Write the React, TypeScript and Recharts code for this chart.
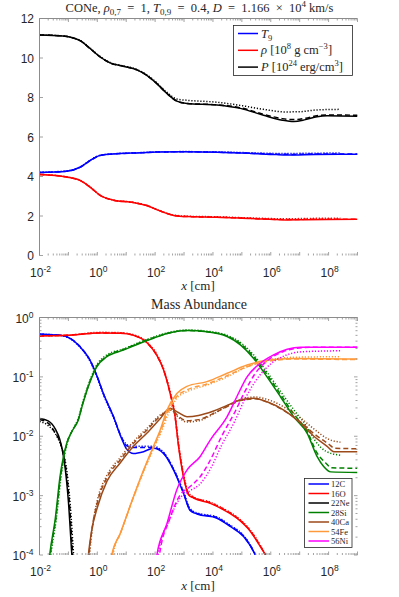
import React from 'react';
import { LineChart, Line, XAxis, YAxis } from 'recharts';

type Pt = [number, number];

// top panel: [log10 x, value]
const tempSolid: Pt[] = [[-2, 4.2], [-1.06, 4.27], [-0.6, 4.47], [-0.25, 4.81], [0.1, 5.07], [0.67, 5.15], [1.5, 5.2], [2.06, 5.24], [3, 5.25], [4.14, 5.23], [5.3, 5.17], [6.2, 5.11], [6.8, 5.09], [7.5, 5.12], [9, 5.13]];
const tempDashed: Pt[] = [[-2, 4.2], [-1.06, 4.27], [-0.6, 4.46], [-0.25, 4.8], [0.1, 5.06], [0.67, 5.15], [1.5, 5.2], [2.06, 5.24], [3, 5.25], [4.14, 5.23], [5.3, 5.18], [6.2, 5.13], [6.8, 5.12], [7.5, 5.14], [9, 5.14]];
const tempDotted: Pt[] = [[-2, 4.22], [-1.06, 4.28], [-0.6, 4.48], [-0.25, 4.82], [0.1, 5.08], [0.67, 5.16], [1.5, 5.21], [2.06, 5.25], [3, 5.26], [4.14, 5.25], [5.3, 5.2], [6.2, 5.17], [6.8, 5.17], [7.5, 5.18], [8.41, 5.19]];

const rhoSolid: Pt[] = [[-2, 4.1], [-1.06, 3.97], [-0.6, 3.8], [-0.25, 3.46], [0.1, 3.04], [0.56, 2.8], [1.25, 2.68], [1.71, 2.53], [2.18, 2.25], [2.64, 2.03], [3.1, 1.97], [4.14, 1.94], [5.3, 1.87], [6.5, 1.8], [7.2, 1.81], [9, 1.83]];
const rhoDashed: Pt[] = [[-2, 4.1], [-1.06, 3.97], [-0.6, 3.8], [-0.25, 3.46], [0.1, 3.04], [0.56, 2.8], [1.25, 2.68], [1.71, 2.53], [2.18, 2.25], [2.64, 2.03], [3.1, 1.97], [4.14, 1.94], [5.3, 1.88], [6.5, 1.82], [7.2, 1.83], [9, 1.84]];
const rhoDotted: Pt[] = [[-2, 4.11], [-1.06, 3.98], [-0.6, 3.81], [-0.25, 3.47], [0.1, 3.05], [0.56, 2.81], [1.25, 2.69], [1.71, 2.54], [2.18, 2.26], [2.64, 2.05], [3.1, 1.99], [4.14, 1.96], [5.3, 1.9], [6.5, 1.86], [7.5, 1.88], [8.41, 1.89]];

const presSolid: Pt[] = [[-2, 11.17], [-1.2, 11.12], [-0.8, 11.0], [-0.6, 10.88], [-0.25, 10.48], [0.1, 10.05], [0.44, 9.75], [0.9, 9.58], [1.37, 9.4], [1.71, 9.12], [2.06, 8.7], [2.41, 8.2], [2.75, 7.82], [3.1, 7.7], [4.14, 7.62], [4.95, 7.45], [5.75, 7.1], [6.4, 6.85], [6.8, 6.78], [7.2, 6.88], [7.6, 7.03], [7.95, 7.08], [9, 7.05]];
const presDashed: Pt[] = [[-2, 11.17], [-1.2, 11.12], [-0.8, 11.0], [-0.6, 10.88], [-0.25, 10.48], [0.1, 10.05], [0.44, 9.75], [0.9, 9.58], [1.37, 9.4], [1.71, 9.12], [2.06, 8.7], [2.41, 8.2], [2.75, 7.82], [3.1, 7.7], [4.14, 7.63], [4.95, 7.48], [5.75, 7.15], [6.4, 6.93], [6.8, 6.88], [7.2, 6.95], [7.6, 7.08], [8.0, 7.12], [9, 7.1]];
const presDotted: Pt[] = [[-2, 11.17], [-1.2, 11.12], [-0.8, 11.01], [-0.6, 10.9], [-0.25, 10.5], [0.1, 10.07], [0.44, 9.77], [0.9, 9.6], [1.37, 9.42], [1.71, 9.15], [2.06, 8.74], [2.41, 8.26], [2.75, 7.92], [3.1, 7.86], [4.14, 7.76], [4.95, 7.6], [5.75, 7.4], [6.5, 7.27], [7.0, 7.28], [7.6, 7.37], [8.41, 7.4]];

// bottom panel: [log10 x, log10 mass fraction]
const c12Solid: Pt[] = [[-2, -0.28], [-1.29, -0.3], [-0.94, -0.35], [-0.6, -0.49], [-0.25, -0.72], [0, -1.0], [0.21, -1.28], [0.56, -1.67], [0.85, -2.05], [1.02, -2.22], [1.25, -2.29], [1.6, -2.26], [1.94, -2.2], [2.29, -2.29], [2.64, -2.57], [2.98, -2.96], [3.21, -3.25], [3.45, -3.31], [4.14, -3.38], [4.6, -3.52], [5.06, -3.69], [5.47, -4.0], [5.8, -4.4]];
const c12Dashed: Pt[] = [[-2, -0.28], [-1.29, -0.3], [-0.94, -0.35], [-0.6, -0.49], [-0.25, -0.72], [0, -1.0], [0.21, -1.28], [0.56, -1.67], [0.85, -2.03], [1.02, -2.16], [1.25, -2.19], [1.6, -2.19], [1.94, -2.19], [2.29, -2.28], [2.64, -2.56], [2.98, -2.95], [3.21, -3.24], [3.45, -3.3], [4.14, -3.37], [4.6, -3.51], [5.06, -3.68], [5.47, -4.0], [5.8, -4.4]];
const c12Dotted: Pt[] = [[-2, -0.28], [-1.29, -0.3], [-0.94, -0.36], [-0.6, -0.5], [-0.25, -0.74], [0, -1.02], [0.21, -1.3], [0.56, -1.69], [0.85, -2.03], [1.02, -2.14], [1.25, -2.17], [1.6, -2.17], [1.94, -2.17], [2.29, -2.27], [2.64, -2.55], [2.98, -2.93], [3.21, -3.22], [3.45, -3.29], [4.14, -3.36], [4.6, -3.5], [5.06, -3.67], [5.47, -4.0], [5.8, -4.4]];

const o16Solid: Pt[] = [[-2, -0.31], [-1.06, -0.3], [0.1, -0.26], [0.79, -0.265], [1.25, -0.3], [1.71, -0.42], [2.06, -0.64], [2.29, -0.88], [2.52, -1.28], [2.69, -1.67], [2.81, -2.17], [2.98, -2.68], [3.16, -2.99], [3.33, -3.04], [3.91, -3.13], [4.37, -3.24], [4.83, -3.38], [5.29, -3.6], [5.64, -3.86], [5.81, -4.0], [6.0, -4.3]];
const o16Dashed: Pt[] = [[-2, -0.31], [-1.06, -0.3], [0.1, -0.26], [0.79, -0.26], [1.25, -0.3], [1.71, -0.42], [2.06, -0.64], [2.29, -0.88], [2.52, -1.28], [2.69, -1.67], [2.81, -2.15], [2.98, -2.66], [3.16, -2.98], [3.33, -3.03], [3.91, -3.12], [4.37, -3.23], [4.83, -3.37], [5.29, -3.59], [5.64, -3.85], [5.81, -4.0], [6.0, -4.3]];
const o16Dotted: Pt[] = [[-2, -0.31], [-1.06, -0.3], [0.1, -0.25], [0.79, -0.255], [1.25, -0.29], [1.71, -0.41], [2.06, -0.62], [2.29, -0.86], [2.52, -1.25], [2.69, -1.64], [2.81, -2.12], [2.98, -2.63], [3.16, -2.96], [3.33, -3.02], [3.91, -3.11], [4.37, -3.22], [4.83, -3.36], [5.29, -3.58], [5.64, -3.84], [5.81, -4.0], [6.0, -4.3]];

const ne22Solid: Pt[] = [[-2, -1.7], [-1.7, -1.74], [-1.45, -1.88], [-1.3, -2.05], [-1.15, -2.4], [-1.0, -3.1], [-0.88, -4.0], [-0.8, -4.5]];
const ne22Dashed: Pt[] = [[-2, -1.72], [-1.7, -1.78], [-1.45, -1.95], [-1.25, -2.15], [-1.1, -2.5], [-0.97, -3.1], [-0.85, -4.0], [-0.78, -4.5]];
const ne22Dotted: Pt[] = [[-2, -1.75], [-1.7, -1.82], [-1.4, -2.0], [-1.2, -2.25], [-1.05, -2.6], [-0.93, -3.2], [-0.82, -4.0], [-0.75, -4.5]];

const si28Solid: Pt[] = [[-1.75, -4.5], [-1.64, -3.97], [-1.46, -3.41], [-1.29, -2.68], [-1.06, -2.12], [-0.88, -1.92], [-0.66, -1.73], [-0.5, -1.45], [-0.25, -1.08], [-0.02, -0.83], [0.33, -0.66], [0.9, -0.55], [1.5, -0.43], [1.94, -0.35], [2.41, -0.27], [3.1, -0.22], [3.79, -0.24], [4.49, -0.32], [4.95, -0.46], [5.41, -0.69], [5.87, -1.0], [6.33, -1.33], [6.79, -1.67], [7.26, -1.95], [7.6, -2.34], [7.83, -2.51], [8.07, -2.6], [9, -2.61]];
const si28Dashed: Pt[] = [[-1.73, -4.5], [-1.62, -3.97], [-1.44, -3.41], [-1.27, -2.68], [-1.04, -2.1], [-0.86, -1.9], [-0.66, -1.72], [-0.5, -1.44], [-0.25, -1.07], [-0.02, -0.82], [0.33, -0.65], [0.9, -0.54], [1.5, -0.42], [1.94, -0.34], [2.41, -0.27], [3.1, -0.22], [3.79, -0.24], [4.49, -0.31], [4.95, -0.44], [5.41, -0.66], [5.87, -0.96], [6.33, -1.29], [6.79, -1.62], [7.26, -1.92], [7.6, -2.28], [7.9, -2.45], [8.1, -2.53], [9, -2.54]];
const si28Dotted: Pt[] = [[-1.72, -4.5], [-1.6, -3.97], [-1.42, -3.4], [-1.25, -2.66], [-1.02, -2.08], [-0.84, -1.88], [-0.66, -1.7], [-0.5, -1.42], [-0.25, -1.05], [-0.02, -0.8], [0.33, -0.63], [0.9, -0.53], [1.5, -0.41], [1.94, -0.33], [2.41, -0.26], [3.1, -0.21], [3.79, -0.23], [4.49, -0.3], [4.95, -0.42], [5.41, -0.63], [5.87, -0.92], [6.33, -1.24], [6.79, -1.55], [7.26, -1.85], [7.5, -2.05], [7.9, -2.25], [8.41, -2.32]];

const ca40Solid: Pt[] = [[-0.4, -4.5], [-0.31, -4.0], [-0.2, -3.6], [0, -3.2], [0.33, -2.76], [0.79, -2.45], [1.25, -2.17], [1.71, -1.95], [2.18, -1.7], [2.52, -1.53], [2.8, -1.6], [3.1, -1.67], [3.5, -1.65], [4.0, -1.58], [4.49, -1.48], [4.95, -1.39], [5.41, -1.36], [5.87, -1.42], [6.45, -1.56], [7.03, -1.78], [7.49, -2.0], [7.95, -2.17], [8.18, -2.26], [9, -2.26]];
const ca40Dashed: Pt[] = [[-0.38, -4.5], [-0.29, -4.0], [-0.18, -3.55], [0, -3.12], [0.33, -2.7], [0.79, -2.4], [1.25, -2.12], [1.71, -1.9], [2.18, -1.66], [2.55, -1.55], [2.8, -1.66], [3.1, -1.74], [3.5, -1.72], [4.0, -1.62], [4.49, -1.5], [4.95, -1.4], [5.45, -1.37], [6.0, -1.45], [6.5, -1.58], [7.03, -1.76], [7.5, -1.96], [8.0, -2.13], [8.2, -2.2], [9, -2.21]];
const ca40Dotted: Pt[] = [[-0.36, -4.5], [-0.27, -4.0], [-0.16, -3.5], [0, -3.08], [0.33, -2.66], [0.79, -2.36], [1.25, -2.09], [1.71, -1.87], [2.18, -1.64], [2.55, -1.56], [2.8, -1.68], [3.1, -1.76], [3.5, -1.74], [4.0, -1.63], [4.49, -1.49], [4.95, -1.38], [5.45, -1.34], [6.0, -1.4], [6.5, -1.52], [7.0, -1.68], [7.5, -1.88], [8.0, -2.05], [8.41, -2.1]];

const fe54Solid: Pt[] = [[0.4, -4.4], [0.5, -4.0], [0.79, -3.64], [1.25, -3.02], [1.6, -2.57], [1.94, -2.17], [2.18, -1.89], [2.41, -1.56], [2.75, -1.28], [3.1, -1.16], [3.79, -1.08], [4.49, -0.94], [5.18, -0.8], [5.87, -0.72], [6.79, -0.69], [9, -0.7]];
const fe54Dashed: Pt[] = [[0.42, -4.4], [0.52, -4.0], [0.81, -3.62], [1.27, -3.0], [1.62, -2.56], [1.96, -2.17], [2.2, -1.9], [2.43, -1.6], [2.75, -1.33], [3.1, -1.22], [3.79, -1.12], [4.49, -0.98], [5.18, -0.83], [5.87, -0.74], [6.8, -0.7], [9, -0.71]];
const fe54Dotted: Pt[] = [[0.44, -4.4], [0.54, -4.0], [0.83, -3.6], [1.29, -2.98], [1.64, -2.55], [1.98, -2.17], [2.22, -1.92], [2.45, -1.63], [2.75, -1.36], [3.1, -1.25], [3.79, -1.14], [4.49, -1.0], [5.18, -0.83], [5.87, -0.72], [6.8, -0.67], [8.41, -0.66]];

const ni56Solid: Pt[] = [[1.95, -4.5], [2.06, -4.0], [2.41, -3.47], [2.75, -2.9], [3.1, -2.57], [3.56, -2.34], [3.91, -2.06], [4.49, -1.67], [4.83, -1.33], [5.18, -1.0], [5.64, -0.77], [6.1, -0.63], [6.57, -0.535], [7.03, -0.5], [9, -0.5]];
const ni56Dashed: Pt[] = [[2.05, -4.5], [2.15, -4.0], [2.5, -3.4], [2.85, -3.0], [3.2, -2.85], [3.56, -2.68], [3.91, -2.4], [4.3, -2.0], [4.75, -1.6], [5.1, -1.25], [5.45, -0.95], [5.9, -0.72], [6.4, -0.58], [6.9, -0.52], [7.5, -0.5], [9, -0.5]];
const ni56Dotted: Pt[] = [[2.0, -4.5], [2.1, -4.0], [2.5, -3.4], [2.85, -3.05], [3.2, -2.92], [3.56, -2.8], [3.91, -2.55], [4.3, -2.15], [4.75, -1.75], [5.1, -1.38], [5.5, -1.05], [6.0, -0.78], [6.5, -0.64], [7.0, -0.58], [8.41, -0.56]];

const speciesNames = ['12C', '16O', '22Ne', '28Si', '40Ca', '54Fe', '56Ni'];
const speciesColors = ['#0000ff', '#ff0000', '#000000', '#008000', '#9c4a1a', '#ff9a3c', '#ff00ff'];
const speciesRuns: Pt[][][] = [
  [c12Solid, c12Dashed, c12Dotted],
  [o16Solid, o16Dashed, o16Dotted],
  [ne22Solid, ne22Dashed, ne22Dotted],
  [si28Solid, si28Dashed, si28Dotted],
  [ca40Solid, ca40Dashed, ca40Dotted],
  [fe54Solid, fe54Dashed, fe54Dotted],
  [ni56Solid, ni56Dashed, ni56Dotted],
];

const stateColors = ['#0000ff', '#ff0000', '#000000'];
const stateRuns: Pt[][][] = [
  [tempSolid, tempDashed, tempDotted],
  [rhoSolid, rhoDashed, rhoDotted],
  [presSolid, presDashed, presDotted],
];

const topYTicks = [0, 2, 4, 6, 8, 10, 12];
const xDecades = [-2, -1, 0, 1, 2, 3, 4, 5, 6, 7, 8, 9];
const yDecades = [-4, -3, -2, -1, 0];

const DASHES = [undefined, '5 3', '1.2 1.8'];
const AXIS = '#8c8c8c';
const TXT = '#262626';
const SANS = '"Liberation Sans", Arial, sans-serif';
const SERIF = '"Liberation Serif", "Times New Roman", serif';
const SP = '\u2002';

const logTicks = (decades: number[]) =>
  decades.flatMap((d, i) =>
    i === decades.length - 1 ? [10 ** d] : [1, 2, 3, 4, 5, 6, 7, 8, 9].map((m) => m * 10 ** d)
  );
const xTicks = logTicks(xDecades);
const yLogTicks = logTicks(yDecades);

const decadeOf = (v: number) => {
  const e = Math.log10(v);
  const n = Math.round(e);
  return { n, major: Math.abs(e - n) < 1e-6 };
};

const toData = (pts: Pt[], logY: boolean) =>
  pts.map(([lx, v]) => ({ x: 10 ** lx, y: logY ? 10 ** v : v }));

function Pow({ n, x, y, anchor }: { n: number; x: number; y: number; anchor: 'middle' | 'end' }) {
  return (
    <text x={x} y={y} textAnchor={anchor} fontFamily={SANS} fontSize={12} fill={TXT}>
      10<tspan dy={-5} fontSize={8.5}>{n}</tspan>
    </text>
  );
}

function BottomTick(props: any) {
  const { x, y, payload } = props;
  const { n, major } = decadeOf(payload.value);
  return (
    <g>
      <line x1={x} x2={x} y1={y} y2={y - (major ? 3.5 : 2)} stroke={AXIS} strokeWidth={0.8} />
      {major && n % 2 === 0 && <Pow n={n} x={x + 1} y={y + 21} anchor="middle" />}
    </g>
  );
}

function TopTick(props: any) {
  const { x, y, payload } = props;
  const { major } = decadeOf(payload.value);
  return <line x1={x} x2={x} y1={y} y2={y + (major ? 3.5 : 2)} stroke={AXIS} strokeWidth={0.8} />;
}

function LeftLinTick(props: any) {
  const { x, y, payload } = props;
  return (
    <g>
      <line x1={x} x2={x + 3.5} y1={y} y2={y} stroke={AXIS} strokeWidth={0.8} />
      <text x={x - 5.5} y={y + 4.5} textAnchor="end" fontFamily={SANS} fontSize={12} fill={TXT}>
        {payload.value}
      </text>
    </g>
  );
}

function RightLinTick(props: any) {
  const { x, y } = props;
  return <line x1={x} x2={x - 3.5} y1={y} y2={y} stroke={AXIS} strokeWidth={0.8} />;
}

function LeftLogTick(props: any) {
  const { x, y, payload } = props;
  const { n, major } = decadeOf(payload.value);
  return (
    <g>
      <line x1={x} x2={x + (major ? 3.5 : 2)} y1={y} y2={y} stroke={AXIS} strokeWidth={0.8} />
      {major && <Pow n={n} x={x - 6} y={y + 5} anchor="end" />}
    </g>
  );
}

function RightLogTick(props: any) {
  const { x, y, payload } = props;
  const { major } = decadeOf(payload.value);
  return <line x1={x} x2={x - (major ? 3.5 : 2)} y1={y} y2={y} stroke={AXIS} strokeWidth={0.8} />;
}

const xAxes = (topH: number, bottomH: number) => [
  <XAxis
    key="xb"
    dataKey="x"
    type="number"
    scale="log"
    domain={[0.01, 1e9]}
    allowDataOverflow
    ticks={xTicks}
    interval={0}
    height={bottomH}
    tickSize={0}
    tickMargin={0}
    axisLine={false}
    tick={(p: any) => <BottomTick {...p} />}
  />,
  <XAxis
    key="xt"
    xAxisId="top"
    orientation="top"
    dataKey="x"
    type="number"
    scale="log"
    domain={[0.01, 1e9]}
    allowDataOverflow
    ticks={xTicks}
    interval={0}
    height={topH}
    tickSize={0}
    tickMargin={0}
    axisLine={{ stroke: AXIS }}
    tick={(p: any) => <TopTick {...p} />}
  />,
];

function TopPanel() {
  return (
    <LineChart width={399} height={300} margin={{ top: 0, right: 0, bottom: 0, left: 0 }}>
      {xAxes(18.5, 44.5)}
      <YAxis
        type="number"
        domain={[0, 12]}
        ticks={topYTicks}
        interval={0}
        width={39.5}
        tickSize={0}
        tickMargin={0}
        axisLine={{ stroke: AXIS }}
        tick={(p: any) => <LeftLinTick {...p} />}
      />
      <YAxis
        yAxisId="right"
        orientation="right"
        type="number"
        domain={[0, 12]}
        ticks={topYTicks}
        interval={0}
        width={41.5}
        tickSize={0}
        tickMargin={0}
        axisLine={false}
        tick={(p: any) => <RightLinTick {...p} />}
      />
      {stateRuns.flatMap((runs, i) =>
        runs.map((pts, j) => (
          <Line
            key={`s${i}-${j}`}
            data={toData(pts, false)}
            dataKey="y"
            type="monotone"
            stroke={stateColors[i]}
            strokeWidth={1.5}
            strokeDasharray={DASHES[j]}
            dot={false}
            activeDot={false}
            isAnimationActive={false}
          />
        ))
      )}
    </LineChart>
  );
}

function BottomPanel() {
  return (
    <LineChart width={399} height={297} margin={{ top: 0, right: 0, bottom: 0, left: 0 }}>
      {xAxes(17.5, 42)}
      <YAxis
        type="number"
        scale="log"
        domain={[1e-4, 1]}
        allowDataOverflow
        ticks={yLogTicks}
        interval={0}
        width={39.5}
        tickSize={0}
        tickMargin={0}
        axisLine={{ stroke: AXIS }}
        tick={(p: any) => <LeftLogTick {...p} />}
      />
      <YAxis
        yAxisId="right"
        orientation="right"
        type="number"
        scale="log"
        domain={[1e-4, 1]}
        allowDataOverflow
        ticks={yLogTicks}
        interval={0}
        width={41.5}
        tickSize={0}
        tickMargin={0}
        axisLine={false}
        tick={(p: any) => <RightLogTick {...p} />}
      />
      {speciesRuns.flatMap((runs, i) =>
        runs.map((pts, j) => (
          <Line
            key={`a${i}-${j}`}
            data={toData(pts, true)}
            dataKey="y"
            type="monotone"
            stroke={speciesColors[i]}
            strokeWidth={1.5}
            strokeDasharray={DASHES[j]}
            dot={false}
            activeDot={false}
            isAnimationActive={false}
          />
        ))
      )}
    </LineChart>
  );
}

function Overlay() {
  const stateLabels = [
    <>
      <tspan fontStyle="italic">T</tspan>
      <tspan dy={3} fontSize={8.5}>9</tspan>
    </>,
    <>
      <tspan fontStyle="italic">ρ</tspan> [10<tspan dy={-5} fontSize={8.5}>8</tspan>
      <tspan dy={5}> g cm</tspan>
      <tspan dy={-5} fontSize={8.5}>−3</tspan>
      <tspan dy={5}>]</tspan>
    </>,
    <>
      <tspan fontStyle="italic">P</tspan> [10<tspan dy={-5} fontSize={8.5}>24</tspan>
      <tspan dy={5}> erg/cm</tspan>
      <tspan dy={-5} fontSize={8.5}>3</tspan>
      <tspan dy={5}>]</tspan>
    </>,
  ];
  return (
    <svg width={399} height={597} style={{ position: 'absolute', left: 0, top: 0, pointerEvents: 'none' }}>
      <text x={199.5} y={11.5} textAnchor="middle" fontFamily={SERIF} fontSize={12.5} fill={TXT}>
        CONe, <tspan fontStyle="italic">ρ</tspan>
        <tspan dy={3} fontSize={9}>0,7</tspan>
        <tspan dy={-3}>{`${SP}=${SP}1, `}</tspan>
        <tspan fontStyle="italic">T</tspan>
        <tspan dy={3} fontSize={9}>0,9</tspan>
        <tspan dy={-3}>{`${SP}=${SP}0.4, `}</tspan>
        <tspan fontStyle="italic">D</tspan>
        <tspan>{`${SP}=${SP}1.166${SP}×${SP}10`}</tspan>
        <tspan dy={-5} fontSize={9}>4</tspan>
        <tspan dy={5}> km/s</tspan>
      </text>
      <text x={198} y={290} textAnchor="middle" fontFamily={SERIF} fontSize={13} fill={TXT}>
        <tspan fontStyle="italic">x</tspan> [cm]
      </text>
      <text x={199} y={309} textAnchor="middle" fontFamily={SERIF} fontSize={14} fill={TXT}>
        Mass Abundance
      </text>
      <text x={198} y={590} textAnchor="middle" fontFamily={SERIF} fontSize={13} fill={TXT}>
        <tspan fontStyle="italic">x</tspan> [cm]
      </text>

      <rect x={233.5} y={25.5} width={119} height={50} fill="#fff" stroke={TXT} strokeWidth={0.8} />
      {stateLabels.map((lab, i) => (
        <g key={i}>
          <line x1={238} x2={258} y1={33.5 + i * 16.8} y2={33.5 + i * 16.8} stroke={stateColors[i]} strokeWidth={1.5} />
          <text x={261} y={37.5 + i * 16.8} fontFamily={SERIF} fontSize={12.5} fill={TXT}>
            {lab}
          </text>
        </g>
      ))}

      <rect x={304.5} y={478.5} width={47.5} height={69} fill="#fff" stroke={TXT} strokeWidth={0.8} />
      {speciesNames.map((name, i) => (
        <g key={name}>
          <line x1={308.5} x2={329} y1={484 + i * 9.5} y2={484 + i * 9.5} stroke={speciesColors[i]} strokeWidth={1.5} />
          <text x={331} y={487 + i * 9.5} fontFamily={SERIF} fontSize={8.5} fill={TXT}>
            {name}
          </text>
        </g>
      ))}
    </svg>
  );
}

export default function App() {
  return (
    <div style={{ position: 'absolute', left: 0, top: 0, width: 399, height: 597, background: '#fff' }}>
      <div style={{ position: 'absolute', left: 0, top: 0 }}>
        <TopPanel />
      </div>
      <div style={{ position: 'absolute', left: 0, top: 300 }}>
        <BottomPanel />
      </div>
      <Overlay />
    </div>
  );
}
